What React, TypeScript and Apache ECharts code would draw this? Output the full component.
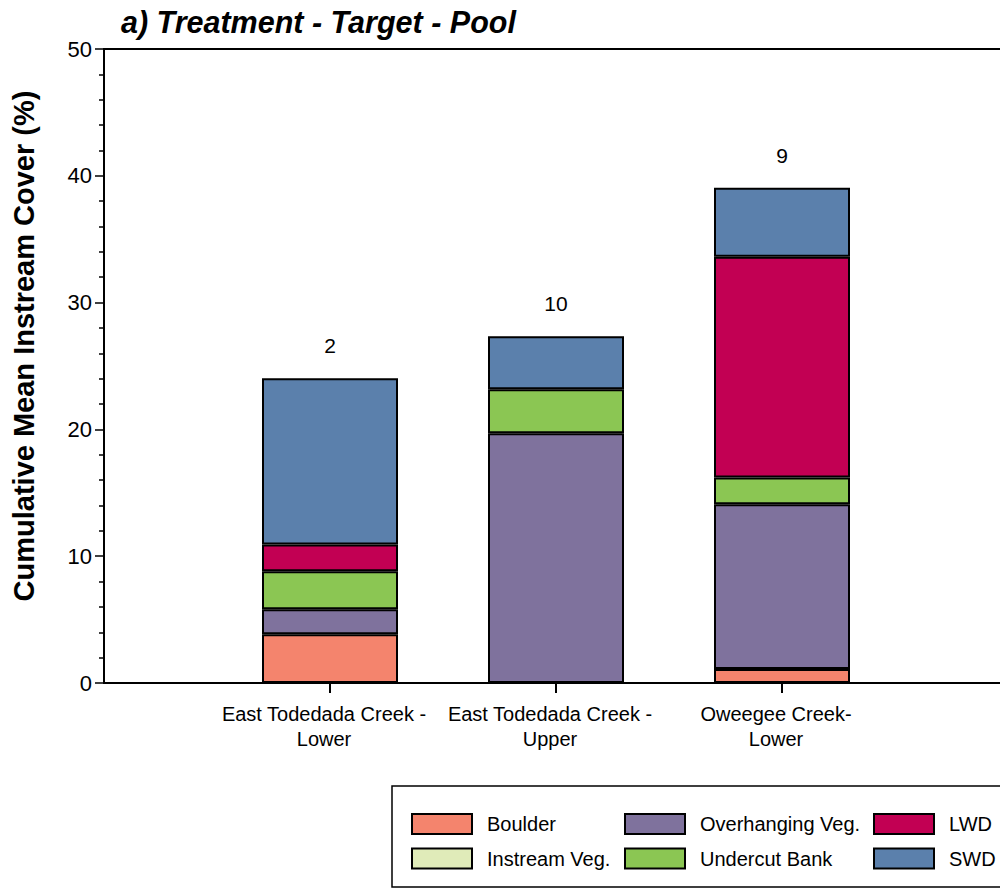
import React, { useEffect, useRef } from "react";
import * as echarts from "echarts";

const categories = ["", "East Todedada Creek -\nLower", "East Todedada Creek -\nUpper", "Oweegee Creek-\nLower", ""];
const boulder = [3.84, 0, 1.1];
const instreamVeg = [0, 0, 0];
const overhangingVeg = [1.98, 19.69, 13.0];
const undercutBank = [3.0, 3.47, 2.1];
const lwd = [2.11, 0, 17.42];
const swd = [13.1, 4.19, 5.44];
const counts = ["2", "10", "9"];
const yTicks = [0, 10, 20, 30, 40, 50];

const FONT = "'Liberation Sans', Arial, sans-serif";

const seriesDefs = [
  { name: "Boulder", data: boulder, color: "#F4846D" },
  { name: "Instream Veg.", data: instreamVeg, color: "#E0EBB9" },
  { name: "Overhanging Veg.", data: overhangingVeg, color: "#7F729D" },
  { name: "Undercut Bank", data: undercutBank, color: "#8BC653" },
  { name: "LWD", data: lwd, color: "#C20053" },
  { name: "SWD", data: swd, color: "#5B80AC" },
];

const pad = (arr: number[]) => ["-", ...arr.map((v) => (v === 0 ? "-" : v)), "-"];

const CHART_W = 1020;

export default function App() {
  const ref = useRef<HTMLDivElement>(null);
  useEffect(() => {
    if (!ref.current) return;
    const chart = echarts.init(ref.current, null, { renderer: "svg" });
    const legendBase = {
      orient: "vertical" as const,
      padding: 0,
      itemWidth: 60,
      itemHeight: 20,
      itemGap: 12.5,
      top: 813,
      icon: "rect",
      textStyle: { fontFamily: FONT, fontSize: 20, color: "#000", lineHeight: 20, padding: [0, 0, 0, 10] },
    };
    chart.setOption({
      animation: false,
      backgroundColor: "#fff",
      title: {
        text: "a) Treatment - Target - Pool",
        left: 116,
        top: 2,
        textStyle: { fontFamily: FONT, fontSize: 30.5, fontWeight: "bold", fontStyle: "italic", color: "#000" },
      },
      grid: {
        left: 104,
        top: 49,
        right: CHART_W - 1008,
        bottom: 205,
        show: true,
        borderColor: "#000",
        borderWidth: 2,
        outerBoundsMode: "none",
      },
      legend: [
        { ...legendBase, left: 411, data: ["Boulder", "Instream Veg."] },
        { ...legendBase, left: 624, data: ["Overhanging Veg.", "Undercut Bank"] },
        { ...legendBase, left: 873, data: ["LWD", "SWD"] },
      ],
      graphic: [
        {
          type: "rect",
          shape: { x: 392, y: 786, width: 700, height: 101 },
          style: { fill: "none", stroke: "#000", lineWidth: 1.5 },
          z: -1,
        },
      ],
      xAxis: {
        type: "category",
        data: categories,
        boundaryGap: false,
        axisLine: { lineStyle: { color: "#000", width: 2 } },
        axisTick: { length: 10, lineStyle: { color: "#000", width: 2 }, interval: (i: number, v: string) => v !== "" },
        axisLabel: {
          interval: 0,
          margin: 18,
          fontFamily: FONT,
          fontSize: 20,
          lineHeight: 25,
          color: "#000",
          padding: [0, 12, 0, 0],
        },
      },
      yAxis: {
        type: "value",
        min: yTicks[0],
        max: yTicks[yTicks.length - 1],
        interval: 10,
        name: "Cumulative Mean Instream Cover (%)",
        nameLocation: "middle",
        nameRotate: 90,
        nameGap: 66,
        nameTextStyle: { fontFamily: FONT, fontSize: 29, fontWeight: "bold", color: "#000", padding: [0, 0, 0, 40] },
        axisLine: { show: true, lineStyle: { color: "#000", width: 2 } },
        axisTick: { show: true, length: 9, lineStyle: { color: "#000", width: 1.5 } },
        minorTick: { show: true, splitNumber: 5, length: 5, lineStyle: { color: "#000", width: 1.5 } },
        splitLine: { show: false },
        axisLabel: { margin: 12, fontFamily: FONT, fontSize: 22, color: "#000" },
      },
      series: seriesDefs.map((s, si) => ({
        name: s.name,
        type: "bar",
        stack: "total",
        barWidth: 136,
        data: pad(s.data),
        itemStyle: { color: s.color, borderColor: "#000", borderWidth: 2 },
        label:
          si === seriesDefs.length - 1
            ? {
                show: true,
                position: "top",
                distance: 22,
                fontFamily: FONT,
                fontSize: 21,
                color: "#000",
                formatter: (p: any) => counts[p.dataIndex - 1] ?? "",
              }
            : { show: false },
      })),
    });
    return () => chart.dispose();
  }, []);
  return (
    <div style={{ position: "absolute", left: 0, top: 0, width: 1000, height: 888, overflow: "hidden", background: "#fff" }}>
      <div ref={ref} style={{ width: CHART_W, height: 888 }} />
    </div>
  );
}
